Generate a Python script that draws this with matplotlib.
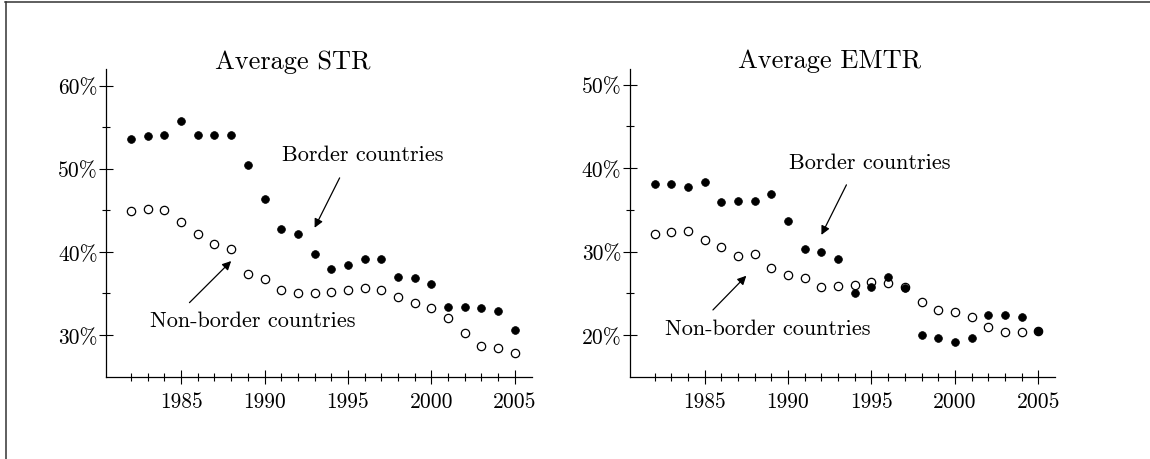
import matplotlib
matplotlib.use("Agg")
import matplotlib.pyplot as plt
from matplotlib.lines import Line2D
from matplotlib.ticker import FixedLocator

plt.rcParams['font.family'] = ['cmr10', 'DejaVu Serif']
plt.rcParams['font.size'] = 15.5

years = list(range(1982, 2006))

# Average statutory tax rate (%)
str_border = [53.6, 53.9, 54.0, 55.7, 54.0, 54.0, 54.0, 50.4, 46.4, 42.7, 42.1, 39.7,
              37.9, 38.4, 39.2, 39.2, 37.0, 36.9, 36.2, 33.4, 33.4, 33.3, 32.9, 30.6]
str_nonborder = [44.9, 45.1, 45.0, 43.6, 42.1, 41.0, 40.4, 37.4, 36.8, 35.4, 35.1, 35.1,
                 35.2, 35.4, 35.7, 35.4, 34.6, 33.8, 33.3, 32.1, 30.2, 28.7, 28.4, 27.9]

# Average effective marginal tax rate (%)
emtr_border = [38.1, 38.1, 37.8, 38.4, 36.0, 36.1, 36.1, 36.9, 33.7, 30.3, 30.0, 29.1,
               25.0, 25.8, 27.0, 25.6, 20.0, 19.6, 19.1, 19.6, 22.4, 22.4, 22.2, 20.5]
emtr_nonborder = [32.1, 32.4, 32.5, 31.4, 30.6, 29.5, 29.7, 28.0, 27.2, 26.8, 25.7, 25.9,
                  26.0, 26.3, 26.2, 25.7, 23.9, 23.0, 22.8, 22.1, 21.0, 20.4, 20.3, 20.5]

panels = [
    dict(title='Average STR', border=str_border, nonborder=str_nonborder,
         ylim=(25, 62), yticks=[30, 40, 50, 60], yminor=[35, 45, 55],
         title_xy=(1991.7, 62.9),
         b_text=(1995.9, 51.8), b_tail=(1994.5, 48.9), b_head=(1993.0, 42.9),
         n_text=(1989.3, 31.8), n_tail=(1985.5, 33.9), n_head=(1988.0, 38.9)),
    dict(title='Average EMTR', border=emtr_border, nonborder=emtr_nonborder,
         ylim=(15, 51.9), yticks=[20, 30, 40, 50], yminor=[25, 35, 45],
         title_xy=(1992.5, 52.9),
         b_text=(1994.9, 40.7), b_tail=(1993.5, 38.0), b_head=(1992.0, 32.0),
         n_text=(1988.8, 20.8), n_tail=(1985.5, 23.0), n_head=(1987.5, 27.1)),
]

fig = plt.figure(figsize=(11.5, 4.6), dpi=100)
lefts = [0.0922, 0.5474]

for left, p in zip(lefts, panels):
    ax = fig.add_axes([left, 0.179, 0.3700, 0.669])
    ax.plot(years, p['nonborder'], 'o', ms=6.0, mfc='white', mec='black', mew=0.9,
            zorder=3, clip_on=False)
    ax.plot(years, p['border'], 'o', ms=5.6, mfc='black', mec='black', mew=0.5,
            zorder=4, clip_on=False)

    ax.set_xlim(1980.5, 2006.0)
    ax.set_ylim(*p['ylim'])
    for s in ['top', 'right']:
        ax.spines[s].set_visible(False)
    for s in ['left', 'bottom']:
        ax.spines[s].set_linewidth(0.9)

    ax.xaxis.set_major_locator(FixedLocator([1985, 1990, 1995, 2000, 2005]))
    ax.xaxis.set_minor_locator(FixedLocator(years))
    ax.set_xticklabels(['1985', '1990', '1995', '2000', '2005'])
    ax.yaxis.set_major_locator(FixedLocator(p['yticks']))
    ax.yaxis.set_minor_locator(FixedLocator(p['yminor']))
    ax.set_yticklabels([f'{v}%' for v in p['yticks']])

    ax.tick_params(axis='both', which='major', direction='inout', length=9.5,
                   width=0.8, color='black')
    ax.tick_params(axis='both', which='minor', direction='inout', length=5.5,
                   width=0.8, color='black')
    ax.tick_params(axis='x', which='major', pad=6)
    ax.tick_params(axis='y', which='major', pad=1)

    ax.text(*p['title_xy'], p['title'], ha='center', va='center', fontsize=19)

    arrow = dict(arrowstyle='-|>', lw=0.9, color='black', mutation_scale=13,
                 shrinkA=0, shrinkB=0)
    ax.annotate('', xy=p['b_head'], xytext=p['b_tail'], arrowprops=arrow)
    ax.annotate('', xy=p['n_head'], xytext=p['n_tail'], arrowprops=arrow)
    ax.text(*p['b_text'], 'Border countries', ha='center', va='center', fontsize=16)
    ax.text(*p['n_text'], 'Non-border countries', ha='center', va='center', fontsize=16)

# frame lines along the top and left edge of the figure
fig.add_artist(Line2D([5 / 1150, 1], [1 - 3 / 460, 1 - 3 / 460],
                      transform=fig.transFigure, color='#333333', lw=1.1))
fig.add_artist(Line2D([5.5 / 1150, 5.5 / 1150], [0, 1 - 3 / 460],
                      transform=fig.transFigure, color='#333333', lw=1.1))

fig.savefig('out.png', dpi=100)
